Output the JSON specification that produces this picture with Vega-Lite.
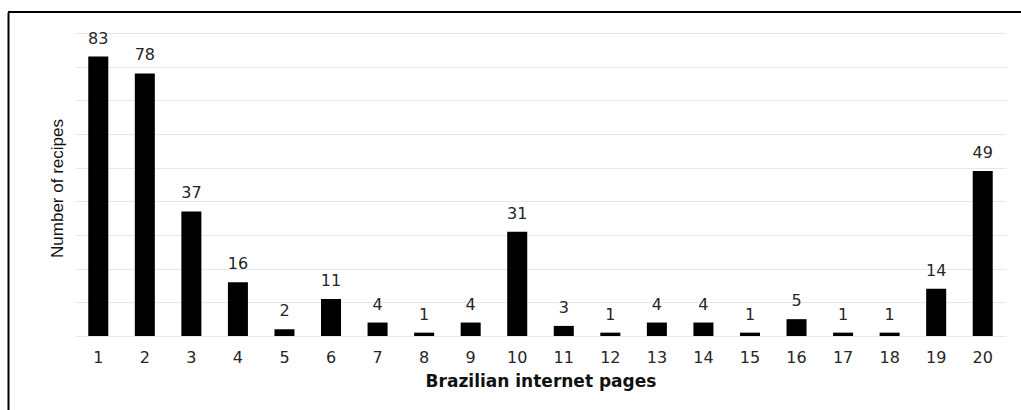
{
  "$schema": "https://vega.github.io/schema/vega-lite/v6.json",
  "width": 1013,
  "height": 398,
  "autosize": {"type": "none"},
  "padding": {"left": 8, "top": 12, "right": 0, "bottom": 0},
  "background": "white",
  "config": {"view": {"stroke": null}},
  "data": {"values": [
    {"page": "1", "recipes": 83}, {"page": "2", "recipes": 78}, {"page": "3", "recipes": 37},
    {"page": "4", "recipes": 16}, {"page": "5", "recipes": 2}, {"page": "6", "recipes": 11},
    {"page": "7", "recipes": 4}, {"page": "8", "recipes": 1}, {"page": "9", "recipes": 4},
    {"page": "10", "recipes": 31}, {"page": "11", "recipes": 3}, {"page": "12", "recipes": 1},
    {"page": "13", "recipes": 4}, {"page": "14", "recipes": 4}, {"page": "15", "recipes": 1},
    {"page": "16", "recipes": 5}, {"page": "17", "recipes": 1}, {"page": "18", "recipes": 1},
    {"page": "19", "recipes": 14}, {"page": "20", "recipes": 49}
  ]},
  "encoding": {
    "x": {
      "field": "page", "type": "ordinal", "sort": null,
      "scale": {"range": [67, 998], "paddingInner": 0.57, "paddingOuter": 0.285},
      "axis": {
        "orient": "bottom", "offset": -74, "domain": false, "ticks": false,
        "labelAngle": 0, "labelFont": "DejaVu Sans", "labelFontSize": 16, "labelColor": "#262626",
        "labelPadding": 13,
        "title": "Brazilian internet pages", "titleFont": "DejaVu Sans", "titleFontSize": 17,
        "titleFontWeight": "bold", "titleColor": "#111", "titlePadding": 8
      }
    },
    "y": {
      "field": "recipes", "type": "quantitative",
      "scale": {"domain": [-21.98, 96.24], "nice": false, "zero": false},
      "axis": {
        "values": [0, 10, 20, 30, 40, 50, 60, 70, 80, 90],
        "grid": true, "gridColor": "#e3e7ee", "gridWidth": 1,
        "labels": false, "ticks": false,
        "domain": true, "domainColor": "black", "domainWidth": 2,
        "title": "Number of recipes", "titleFont": "Liberation Sans", "titleFontSize": 17,
        "titleFontWeight": "normal", "titleColor": "#111",
        "titleX": 49, "titleY": 176, "titleAngle": -90, "titleAlign": "center", "titleBaseline": "middle"
      }
    }
  },
  "layer": [
    {
      "mark": {"type": "bar", "color": "black"},
      "encoding": {"y2": {"datum": 0}}
    },
    {
      "mark": {"type": "text", "baseline": "alphabetic", "dy": -13, "font": "DejaVu Sans", "fontSize": 16, "color": "#262626"},
      "encoding": {"text": {"field": "recipes", "type": "quantitative"}}
    },
    {
      "mark": {"type": "rule", "color": "black", "strokeWidth": 2},
      "encoding": {"y": {"datum": 96.24}, "x": null}
    }
  ]
}
